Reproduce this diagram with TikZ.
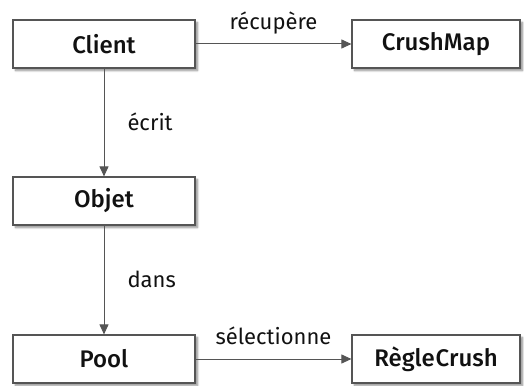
\documentclass[tikz,border=0pt]{standalone}
\usepackage{fontspec}
\setmainfont{Fira Sans}[BoldFont={Fira Sans Medium}]
\usetikzlibrary{arrows.meta,shadows.blur}
\definecolor{edge}{HTML}{555555}
\definecolor{ink}{HTML}{111111}
\tikzset{
  entity/.style={draw=edge, line width=1.2pt, fill=white, minimum height=48pt,
    inner sep=0pt, font=\fontsize{24}{28}\selectfont\bfseries, text=ink,
    blur shadow={shadow xshift=2.5pt, shadow yshift=-2.5pt, shadow blur radius=2pt,
      shadow blur steps=6, shadow opacity=45}},
  link/.style={draw=edge, line width=1pt, -{Triangle[length=10pt,width=9pt]}},
  tag/.style={font=\fontsize{22}{26}\selectfont, text=ink, inner sep=0pt,
    text depth=0.22em}
}
\begin{document}
\begin{tikzpicture}[x=1pt,y=-1pt]
  \useasboundingbox (0,0) rectangle (524,385);
  \node[entity, minimum width=182pt] (client) at (104,44) {Client};
  \node[entity, minimum width=168pt] (crushmap) at (436,44) {CrushMap};
  \node[entity, minimum width=182pt] (objet) at (104,201) {Objet};
  \node[entity, minimum width=182pt] (pool) at (104,359) {Pool};
  \node[entity, minimum width=168pt] (regle) at (436,359) {Règle\kern1pt Crush};

  \draw[link] (client) -- node[tag, above=12pt] {récupère} (crushmap);
  \draw[link] (client) -- node[tag, right=23pt] {écrit} (objet);
  \draw[link] (objet) -- node[tag, right=23pt] {dans} (pool);
  \draw[link] (pool) -- node[tag, above=12pt] {sélectionne} (regle);
\end{tikzpicture}
\end{document}
